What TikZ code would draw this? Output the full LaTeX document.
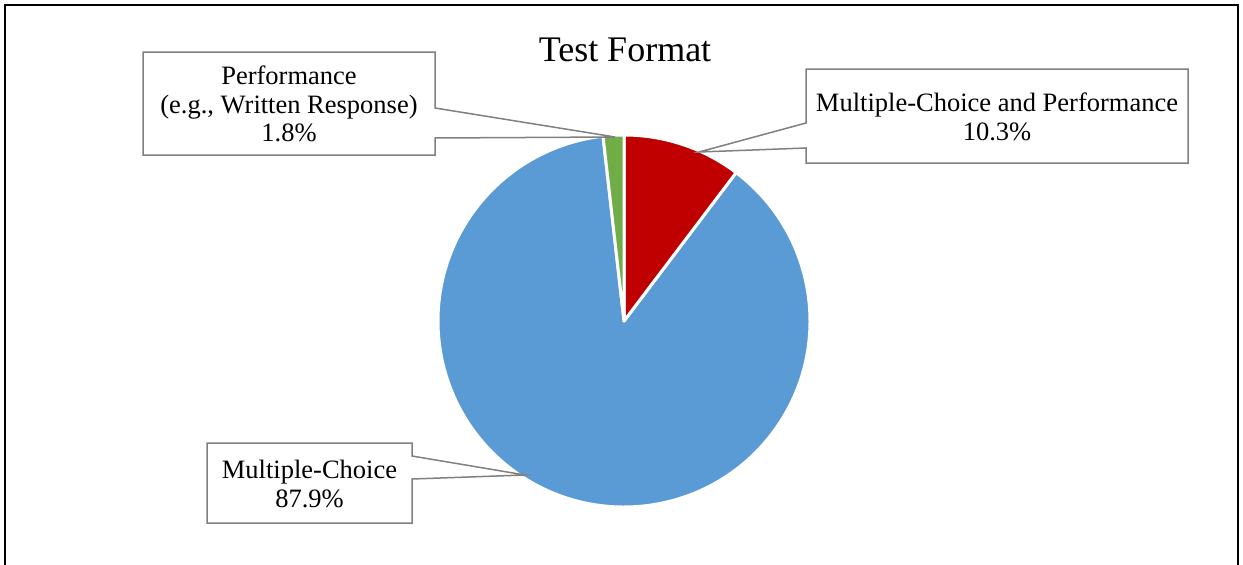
\documentclass[tikz,border=0pt]{standalone}
\usepackage{fontspec}
\setmainfont{Liberation Serif}
\definecolor{pieblue}{HTML}{5B9BD5}
\definecolor{piered}{HTML}{C00000}
\definecolor{piegreen}{HTML}{70AD47}
\definecolor{callgray}{HTML}{808080}
\begin{document}
\begin{tikzpicture}[x=1pt,y=-1pt,
  lbl/.style={font=\fontsize{26.5}{28.5}\selectfont, align=center, inner sep=0pt},
  callout/.style={draw=callgray, line width=1.5pt, fill=white, line join=miter},
  slice/.style={draw=white, line width=3pt, line join=round}]
\useasboundingbox (0,0) rectangle (1243,565);
\draw[line width=2pt] (5,566) -- (5,5) -- (1238,5) -- (1238,566);
% pie
\begin{scope}[shift={(624,321)}, y=1pt]
  \coordinate (ctr) at (0,0);
  \filldraw[slice, fill=pieblue] (ctr) -- (52.92:186) arc[start angle=52.92, end angle=-263.52, radius=186] -- cycle;
  \filldraw[slice, fill=piered] (ctr) -- (90:186) arc[start angle=90, end angle=52.92, radius=186] -- cycle;
  \filldraw[slice, fill=piegreen] (ctr) -- (96.48:186) arc[start angle=96.48, end angle=90, radius=186] -- cycle;
\end{scope}
% title
\node[font=\fontsize{36}{40}\selectfont, inner sep=0pt] (title) at (625,50) {Test Format};
% callout tips
\coordinate (tipP) at (615,137);
\coordinate (tipMP) at (699,152);
\coordinate (tipMC) at (525,475);
% callouts
\draw[callout] (143,52) -- (435,52) -- (435,108) -- (tipP) -- (435,138) -- (435,155) -- (143,155) -- cycle;
\draw[callout] (806,69) -- (1188,69) -- (1188,163) -- (806,163) -- (806,148) -- (tipMP) -- (806,123) -- cycle;
\draw[callout] (207,443) -- (412,443) -- (412,456) -- (tipMC) -- (412,479) -- (412,523) -- (207,523) -- cycle;
% labels
\node[lbl] (labP) at (289,104) {Performance\\(e.g., Written Response)\\1.8\%};
\node[lbl] (labMP) at (997,117) {Multiple-Choice and Performance\\10.3\%};
\node[lbl] (labMC) at (309.5,484) {Multiple-Choice\\87.9\%};
\end{tikzpicture}
\end{document}
